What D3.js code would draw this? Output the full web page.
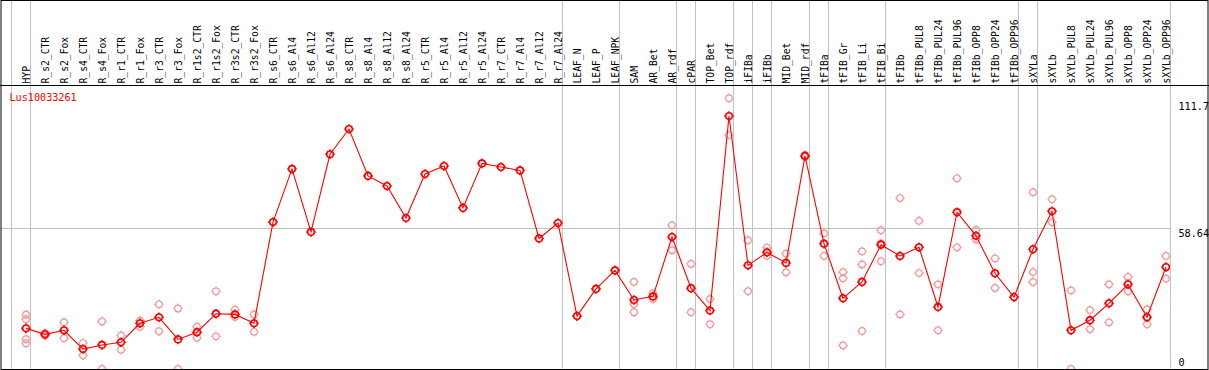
<!DOCTYPE html>
<html>
<head>
<meta charset="utf-8">
<script src="https://cdn.jsdelivr.net/npm/d3@7"></script>
<style>
    body { margin: 0; background: #fff; }
    svg text { font-family: "DejaVu Sans Mono", "Liberation Mono", monospace; }
</style>
</head>
<body>
<div id="chart"></div>
<script>
// Sample names across the header
const categories = [
    "HYP", "R_s2_CTR", "R_s2_Fox", "R_s4_CTR", "R_s4_Fox", "R_r1_CTR", "R_r1_Fox", "R_r3_CTR", "R_r3_Fox",
    "R_r1s2_CTR", "R_r1s2_Fox", "R_r3s2_CTR", "R_r3s2_Fox",
    "R_s6_CTR", "R_s6_Al4", "R_s6_Al12", "R_s6_Al24", "R_s8_CTR", "R_s8_Al4", "R_s8_Al12", "R_s8_Al24",
    "R_r5_CTR", "R_r5_Al4", "R_r5_Al12", "R_r5_Al24", "R_r7_CTR", "R_r7_Al4", "R_r7_Al12", "R_r7_Al24",
    "LEAF_N", "LEAF_P", "LEAF_NPK", "SAM", "AR_Bet", "AR_rdf", "cPAR", "TOP_Bet", "TOP_rdf",
    "iFIBa", "iFIBb", "MID_Bet", "MID_rdf", "tFIBa", "tFIB_Gr", "tFIB_Li", "tFIB_Bi",
    "tFIBb", "tFIBb_PUL8", "tFIBb_PUL24", "tFIBb_PUL96", "tFIBb_OPP8", "tFIBb_OPP24", "tFIBb_OPP96",
    "sXYLa", "sXYLb", "sXYLb_PUL8", "sXYLb_PUL24", "sXYLb_PUL96", "sXYLb_OPP8", "sXYLb_OPP24", "sXYLb_OPP96"
];

// index of the first sample of each group (vertical separators)
const groupStarts = [0, 1, 29, 32, 35, 36, 38, 39, 40, 42, 43, 46, 53, 54, 61];

// mean expression per sample
const means = [
    16.9, 14.4, 16.1, 8.3, 10.0, 11.1, 19.0, 21.5, 12.3, 15.3, 23.0, 22.7, 19.0,
    61.1, 83.2, 57.0, 89.3, 99.8, 80.3, 76.1, 62.8, 81.1, 84.4, 67.0, 85.5, 84.0, 82.6, 54.3, 60.7,
    22.0, 33.3, 41.0, 28.7, 30.2, 54.9, 33.6, 24.3, 105.2,
    43.1, 48.5, 44.1, 88.6, 52.1, 29.4, 36.2, 51.7,
    47.0, 50.6, 25.8, 65.2, 55.4, 39.8, 29.9,
    49.8, 65.6, 16.1, 20.3, 27.3, 35.2, 21.5, 42.4
];

// individual replicates per sample
const replicates = [
    [22.6, 20.7, 12.4, 10.7], [14.9, 13.9], [19.4, 12.8], [10.8, 5.7], [19.8, 0], [14.0, 8.0], [20.1, 17.6],
    [26.9, 15.7], [25.2, 0], [17.6, 13.0], [32.3, 13.6], [24.7, 21.6], [22.7, 15.5],
    [], [], [], [], [], [], [], [], [], [], [], [], [], [], [], [],
    [], [], [], [36.2, 27.0, 23.6], [31.5, 29.1], [59.8, 49.4], [43.7, 23.6], [29.1, 18.6], [112.6, 97.3],
    [53.5, 32.4], [50.5, 47.1], [48.0, 40.2], [89.0, 88.2], [56.4, 47.0], [40.3, 37.7, 9.8],
    [48.9, 43.5, 15.8], [57.7, 52.3, 44.8],
    [71.1, 22.7], [61.6, 39.9], [35.2, 16.1], [79.3, 50.6], [57.8, 53.9], [46.0, 33.7], [],
    [73.5, 40.3, 36.2], [70.6, 61.0], [32.7, 0], [24.5, 16.6], [35.2, 19.4], [38.3, 32.3], [24.8, 18.6], [47.0, 37.6]
];

const title = "Lus10033261";
const yTicks = [0, 58.64, 111.7];
const yGrid = [58.64];

const W = 1209, H = 370;
const headerH = 85.5, plotBottom = 369, plotRight = 1170;
const colW = 19;

const svg = d3.select("#chart").append("svg")
    .attr("width", W)
    .attr("height", H);

// column scale (left edge of each sample column)
const x = d3.scaleLinear().domain([0, categories.length]).range([11, 11 + colW * categories.length]);
const px = i => x(i) + 15;
const y = d3.scaleLinear().domain([0, 111.7]).range([369, 100.4]);

svg.append("defs").append("clipPath").attr("id", "plotclip")
    .append("rect").attr("x", 1).attr("y", headerH).attr("width", plotRight - 1).attr("height", plotBottom - headerH);

// horizontal grid
svg.selectAll(".hgrid").data(yGrid).enter().append("line")
    .attr("x1", 1).attr("x2", plotRight)
    .attr("y1", d => Math.round(y(d)) + 0.5).attr("y2", d => Math.round(y(d)) + 0.5)
    .attr("stroke", "#c0c0c0").attr("stroke-width", 1);

// group separators
svg.selectAll(".vgrid").data(groupStarts).enter().append("line")
    .attr("x1", d => Math.round(x(d)) + 0.5).attr("x2", d => Math.round(x(d)) + 0.5)
    .attr("y1", 0).attr("y2", H)
    .attr("stroke", "#c0c0c0").attr("stroke-width", 1);

// header labels (narrow, tall pixel-ish font)
svg.selectAll(".lab").data(categories).enter().append("text")
    .attr("transform", (d, i) => "translate(" + (x(i + 1) - 0.5) + ",83.5) rotate(-90) scale(0.88,1)")
    .attr("text-anchor", "start")
    .style("font-size", "11px")
    .attr("fill", "#000")
    .text(d => d);

// frame
svg.append("rect").attr("x", 1).attr("y", 0.5).attr("width", W - 2).attr("height", plotBottom)
    .attr("fill", "none").attr("stroke", "#000").attr("stroke-width", 1);
svg.append("line").attr("x1", 0).attr("x2", W).attr("y1", headerH).attr("y2", headerH)
    .attr("stroke", "#000").attr("stroke-width", 1);

// title
svg.append("text").attr("transform", "translate(9.5,101) scale(0.94,1)")
    .attr("fill", "#ff0000").style("font-size", "10.8px").text(title);

// y labels on the right
svg.selectAll(".ylab").data(yTicks).enter().append("text")
    .attr("transform", d => "translate(1178.5," + Math.min(y(d) + 9.5, 366) + ") scale(0.94,1)")
    .style("font-size", "10.8px")
    .attr("fill", "#000")
    .text(d => d);

const plot = svg.append("g").attr("clip-path", "url(#plotclip)");

// circle marker with small ticks
function marker(g, r) {
    g.append("circle").attr("r", r);
    g.append("path").attr("d",
        "M0," + (-r - 1.5) + "V" + (-r) + "M0," + r + "V" + (r + 1.5) +
        "M" + (-r - 1.5) + ",0H" + (-r) + "M" + r + ",0H" + (r + 1.5));
}

// replicates
const reps = [];
replicates.forEach((arr, i) => arr.forEach(v => reps.push({ i: i, v: v })));
plot.selectAll(".rep").data(reps).enter().append("g")
    .attr("transform", d => "translate(" + px(d.i) + "," + y(d.v) + ")")
    .attr("fill", "none").attr("stroke", "#f09a9a").attr("stroke-width", 1.2)
    .each(function () { marker(d3.select(this), 3.3); });

// mean line
plot.append("path").datum(means)
    .attr("d", d3.line().x((d, i) => px(i)).y(d => y(d)))
    .attr("fill", "none").attr("stroke", "#ff0000").attr("stroke-width", 1.1);

plot.selectAll(".mean").data(means).enter().append("g")
    .attr("transform", (d, i) => "translate(" + px(i) + "," + y(d) + ")")
    .attr("fill", "none").attr("stroke", "#ff0000").attr("stroke-width", 1.6)
    .each(function () { marker(d3.select(this), 3.3); });
</script>
</body>
</html>
